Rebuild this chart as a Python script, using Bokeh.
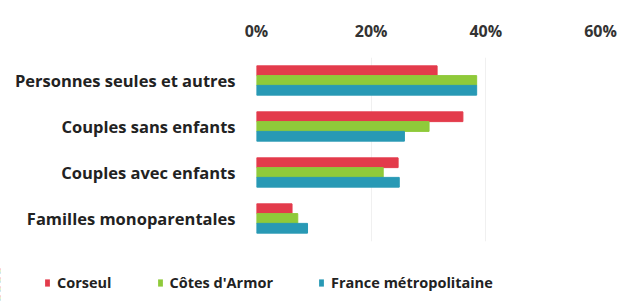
from bokeh.plotting import figure
from bokeh.models import ColumnDataSource, FactorRange, Legend, LegendItem, NumeralTickFormatter, FixedTicker, Range1d
from bokeh.transform import dodge
from bokeh.embed import file_html
from bokeh.resources import INLINE

categories = ["Personnes seules et autres", "Couples sans enfants", "Couples avec enfants", "Familles monoparentales"]
series = ["Corseul", "Côtes d'Armor", "France métropolitaine"]
corseul = [0.315, 0.360, 0.247, 0.062]
cotes = [0.384, 0.301, 0.221, 0.072]
france = [0.384, 0.258, 0.249, 0.089]
ticks = [0, 0.2, 0.4, 0.6]

colors = ["#e33b4b", "#8fca3a", "#2899b5"]
font = "Open Sans"

src = ColumnDataSource(dict(cat=categories, a=corseul, b=cotes, c=france))

p = figure(width=619, height=266, output_backend="svg", toolbar_location=None,
           y_range=FactorRange(factors=list(reversed(categories)), range_padding=0),
           x_range=(0, 0.6), x_axis_location="above",
           min_border_left=256, min_border_right=19, min_border_top=57, min_border_bottom=25)
p.outline_line_color = None

bh = 0.212
cols = ["a", "b", "c"]
offs = [bh, 0, -bh]
for col, off, c in zip(cols, offs, colors):
    p.hbar(y=dodge("cat", off, range=p.y_range), right=col, height=bh, source=src, color=c)

p.xaxis.ticker = FixedTicker(ticks=ticks)
p.xaxis.formatter = NumeralTickFormatter(format="0%")
p.xaxis.axis_line_color = None
p.xaxis.major_tick_line_color = None
p.xaxis.minor_tick_line_color = None
p.xaxis.major_label_standoff = 10
p.xaxis.major_label_text_font = font
p.xaxis.major_label_text_font_style = "bold"
p.xaxis.major_label_text_font_size = "16px"
p.xaxis.major_label_text_color = "#333333"

p.yaxis.axis_line_color = None
p.yaxis.major_tick_line_color = None
p.yaxis.minor_tick_line_color = None
p.yaxis.major_label_standoff = 15
p.yaxis.major_label_text_font = font
p.yaxis.major_label_text_font_style = "bold"
p.yaxis.major_label_text_font_size = "16.5px"
p.yaxis.major_label_text_color = "#222222"

p.ygrid.grid_line_color = None
p.xgrid.grid_line_color = "#f0f0f0"

# legend strip below the chart (separate root, so its frame spans the full width)
p2 = figure(width=619, height=36, output_backend="svg", toolbar_location=None,
            y_range=FactorRange(factors=list(reversed(categories))), x_range=Range1d(5, 6),
            x_axis_location=None, y_axis_location=None, min_border=0)
p2.outline_line_color = None
p2.grid.visible = False
rs = []
for col, off, c in zip(cols, offs, colors):
    rs.append(p2.hbar(y=dodge("cat", off, range=p2.y_range), right=col, height=bh, source=src,
                      color=c, line_color=None))

legend = Legend(items=[LegendItem(label=s, renderers=[r]) for s, r in zip(series, rs)],
                orientation="horizontal", location=(44, 10),
                glyph_width=6, glyph_height=9, label_standoff=7, spacing=45,
                label_text_font=font, label_text_font_style="bold",
                label_text_font_size="14.5px", label_text_color="#222222",
                border_line_color=None, background_fill_alpha=0, padding=0, margin=0)
p2.add_layout(legend, "center")

open("out.html", "w").write(file_html([p, p2], INLINE))
